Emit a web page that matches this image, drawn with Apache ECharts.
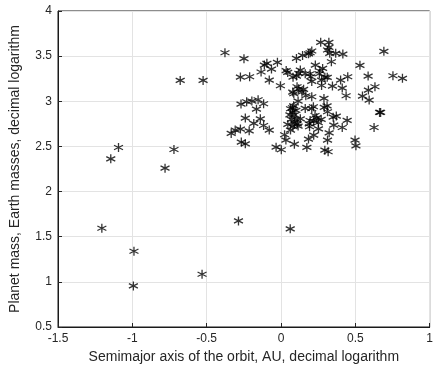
<!DOCTYPE html>
<html>
<head>
<meta charset="utf-8">
<script src="https://cdn.jsdelivr.net/npm/echarts@6/dist/echarts.min.js"></script>
<style>
  html, body { margin: 0; padding: 0; background: #fff; }
  #chart { width: 436px; height: 369px; }
</style>
</head>
<body>
<div id="chart"></div>
<script>
// log10 of semimajor axis (AU) and planet mass (Earth masses)
const outliers = [
  [-1.205, 1.594], [-0.989, 1.339], [-0.993, 0.955], [-0.531, 1.084], [-0.286, 1.675], [0.062, 1.587],
  [-1.145, 2.363], [-1.093, 2.488], [-0.780, 2.259], [-0.720, 2.466], [-0.678, 3.231], [-0.524, 3.231],
  [-0.377, 3.538], [-0.249, 3.472], [-0.273, 3.268], [-0.211, 3.272]
];
const leftCluster = [
  [-0.335, 2.644], [-0.308, 2.681], [-0.273, 2.692], [-0.267, 2.548], [-0.240, 2.529], [-0.240, 2.814],
  [-0.214, 2.673], [-0.183, 2.755], [-0.269, 2.969], [-0.231, 2.995], [-0.196, 3.002], [-0.154, 3.017],
  [-0.117, 2.973], [-0.165, 2.913], [-0.139, 2.806], [-0.117, 2.732], [-0.079, 2.681],
  [-0.134, 3.324], [-0.112, 3.401], [-0.095, 3.420], [-0.064, 3.357], [-0.079, 3.235], [-0.024, 3.431],
  [-0.004, 3.172], [-0.033, 2.492], [0.002, 2.463]
];
const rightCluster = [
  [0.024, 2.629], [0.033, 2.570], [0.035, 3.340], [0.045, 3.320], [0.046, 2.744], [0.064, 2.681],
  [0.064, 2.917], [0.077, 2.928], [0.079, 3.102], [0.090, 2.525], [0.104, 3.279], [0.104, 3.475],
  [0.108, 3.161], [0.115, 3.002], [0.115, 2.725], [0.130, 3.346], [0.145, 3.508], [0.152, 3.132],
  [0.163, 2.921], [0.167, 3.061], [0.174, 2.489], [0.185, 2.581], [0.192, 2.718], [0.196, 3.538],
  [0.207, 3.557], [0.200, 3.272], [0.207, 3.220], [0.207, 3.050], [0.218, 2.939], [0.220, 2.625],
  [0.231, 3.401], [0.240, 2.817], [0.251, 2.762], [0.262, 3.335], [0.267, 3.653], [0.273, 3.235],
  [0.280, 3.364], [0.289, 3.032], [0.291, 2.932], [0.295, 2.459], [0.311, 3.265], [0.317, 2.441],
  [0.322, 3.653], [0.313, 3.568], [0.322, 3.597], [0.328, 3.531], [0.339, 3.438], [0.346, 3.168],
  [0.313, 2.884], [0.324, 2.651], [0.313, 2.570], [0.355, 2.736], [0.368, 3.531], [0.372, 2.836],
  [0.401, 3.235], [0.412, 3.146], [0.412, 2.710], [0.416, 3.523], [0.438, 3.061], [0.449, 3.272],
  [0.445, 2.788], [0.498, 2.570], [0.504, 2.507], [0.531, 3.398], [0.548, 3.058], [0.586, 3.279],
  [0.588, 3.124], [0.593, 3.013], [0.632, 3.161], [0.626, 2.710], [0.663, 2.877], [0.670, 2.877],
  [0.692, 3.553], [0.753, 3.283], [0.817, 3.254]
];
const denseCore = [
  [0.185, 3.526], [0.120, 3.310], [0.081, 3.267], [0.163, 3.305], [0.196, 3.305], [0.258, 3.305],
  [0.295, 3.267], [0.119, 3.138], [0.086, 3.083], [0.273, 3.175], [0.141, 3.101],
  [0.075, 2.879], [0.090, 2.850], [0.070, 2.800], [0.090, 2.760], [0.080, 2.720], [0.110, 2.750],
  [0.130, 2.806], [0.207, 2.917], [0.196, 2.787], [0.229, 2.843], [0.252, 2.695], [0.310, 2.950],
  [0.351, 2.824], [0.060, 2.850], [0.085, 2.950], [0.100, 2.900], [0.100, 2.800], [0.220, 2.780],
  [0.270, 2.800], [0.190, 2.750]
];
const xTicks = [-1.5, -1, -0.5, 0, 0.5, 1];
const yTicks = [0.5, 1, 1.5, 2, 2.5, 3, 3.5, 4];

const points = outliers.concat(leftCluster, rightCluster, denseCore);

// six-armed asterisk, stroked only
const asterisk = 'path://M0,-5L0,5M-4.33,-2.5L4.33,2.5M-4.33,2.5L4.33,-2.5';
const textColor = '#262626';
const font = 'Liberation Sans';

const chart = echarts.init(document.getElementById('chart'), null, { renderer: 'canvas' });
chart.setOption({
  animation: false,
  backgroundColor: '#fff',
  grid: {
    left: 57, right: 2, top: 11, bottom: 42,
    show: true, borderColor: '#1a1a1a', borderWidth: 1
  },
  xAxis: {
    type: 'value',
    min: xTicks[0], max: xTicks[xTicks.length - 1], interval: 0.5,
    name: 'Semimajor axis of the orbit, AU, decimal logarithm',
    nameLocation: 'middle', nameGap: 21,
    nameTextStyle: { color: textColor, fontFamily: font, fontSize: 14 },
    axisLine: { show: true, onZero: false, lineStyle: { color: '#1a1a1a' } },
    axisTick: { show: true, inside: true, length: 4, lineStyle: { color: textColor } },
    axisLabel: { color: textColor, fontFamily: font, fontSize: 12, margin: 6 },
    splitLine: { show: true, lineStyle: { color: '#e3e3e3' } }
  },
  yAxis: {
    type: 'value',
    min: yTicks[0], max: yTicks[yTicks.length - 1], interval: 0.5,
    name: 'Planet mass, Earth masses, decimal logarithm',
    nameLocation: 'middle', nameGap: 36,
    nameTextStyle: { color: textColor, fontFamily: font, fontSize: 14 },
    axisLine: { show: true, onZero: false, lineStyle: { color: '#1a1a1a' } },
    axisTick: { show: true, inside: true, length: 4, lineStyle: { color: textColor } },
    axisLabel: { color: textColor, fontFamily: font, fontSize: 12, margin: 6 },
    splitLine: { show: true, lineStyle: { color: '#e3e3e3' } }
  },
  series: [{
    type: 'scatter',
    data: points,
    symbol: asterisk,
    symbolSize: 9,
    itemStyle: { color: 'transparent', borderColor: '#000', borderWidth: 1.3 }
  }]
});
</script>
</body>
</html>
